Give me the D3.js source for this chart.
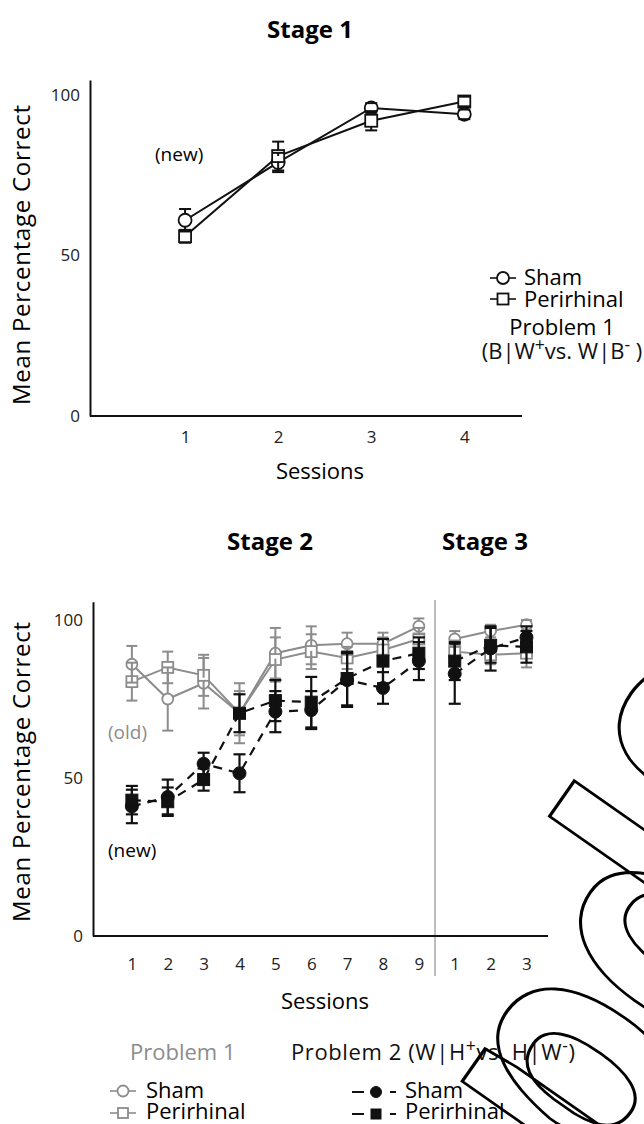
<!DOCTYPE html>
<html><head><meta charset="utf-8">
<script src="https://cdn.jsdelivr.net/npm/d3@7"></script>
<style>
body{margin:0;background:#fff}
svg{display:block}
text{font-family:"Open Sans",sans-serif}
</style>
</head><body>
<svg id="c" width="644" height="1124"></svg>
<script>
// ---------- Stage 1 data ----------
const stage1Sessions = [1, 2, 3, 4];
const stage1ShamMean = [61, 79, 96, 94];
const stage1ShamErr  = [3.5, 3, 1.5, 1.5];
const stage1PeriMean = [56, 81, 92, 98];
const stage1PeriErr  = [2, 4.5, 3, 1.5];

// ---------- Stage 2 + 3 data (index 1-9 = stage 2, 10-12 = stage 3) ----------
const stage23Index      = [1, 2, 3, 4, 5, 6, 7, 8, 9, 10, 11, 12];
const stage23TickLabels = ["1","2","3","4","5","6","7","8","9","1","2","3"];
const p1ShamMean = [86, 75, 80, 70.5, 89.5, 92, 92.5, 92.5, 98, 94, 96.5, 98.5];
const p1ShamErr  = [5.8, 10, 8, 9.5, 8, 6, 3.5, 3.5, 2.5, 2.5, 2, 1.5];
const p1PeriMean = [80.5, 85, 82.5, 70.5, 87.5, 90, 88, 90.5, 94, 90, 89, 89.5];
const p1PeriErr  = [6, 5, 6.5, 7, 7, 5.5, 3.5, 4, 3.5, 3.5, 3, 4.5];
const p2ShamMean = [41, 44, 54.5, 51.5, 71, 71.5, 81, 78.5, 87, 83, 91, 94.5];
const p2ShamErr  = [5.3, 5.5, 3.5, 6, 6.5, 6, 8.5, 5, 6, 9.5, 7, 3.5];
const p2PeriMean = [43, 42.5, 49.5, 70.5, 74.5, 74, 81.5, 87, 89.5, 87, 92, 91.5];
const p2PeriErr  = [4.5, 4.5, 3.5, 6, 6.5, 8, 8.5, 7, 5, 6, 5.5, 5];
const stageSegments = [[0, 9], [9, 12]];

const yTicks = [0, 50, 100];

const svg = d3.select("#c");
const GRAY = "#8c8c8c", BLACK = "#111";
const TICK_FS = 17, LEG_FS = 22, TITLE_FS = 24;

function yAxis(g, y) {
  g.call(d3.axisLeft(y).tickValues(yTicks).tickSize(0).tickSizeOuter(0).tickPadding(10))
   .call(a => a.select(".domain").attr("stroke", BLACK).attr("stroke-width", 2))
   .call(a => a.selectAll("text").attr("font-size", TICK_FS).attr("fill", "#222")
        .style("font-family", "Open Sans"));
}

function drawSeries(g, x, y, xs, mean, err, segs, st) {
  const pts = xs.map((d, i) => ({x: d, m: mean[i], e: err[i]}));
  const line = d3.line().x(d => x(d.x)).y(d => y(d.m));
  segs.forEach(([a, b]) => {
    g.append("path").datum(pts.slice(a, b)).attr("d", line)
      .attr("fill", "none").attr("stroke", st.color).attr("stroke-width", st.lw)
      .attr("stroke-dasharray", st.dash || null);
  });
  return pts;
}
function drawMarkers(g, x, y, pts, st) {
  pts.forEach(p => {
    if (st.marker === "circle") {
      g.append("circle").attr("cx", x(p.x)).attr("cy", y(p.m)).attr("r", st.size)
        .attr("fill", st.fill).attr("stroke", st.color).attr("stroke-width", st.mlw);
    } else {
      g.append("rect").attr("x", x(p.x) - st.size).attr("y", y(p.m) - st.size)
        .attr("width", st.size * 2).attr("height", st.size * 2)
        .attr("fill", st.fill).attr("stroke", st.color).attr("stroke-width", st.mlw);
    }
  });
}
function drawErr(g, x, y, pts, st) {
  pts.forEach(p => {
    const cx = x(p.x), cy = y(p.m), t = y(p.m + p.e), b = y(p.m - p.e);
    const r = st.size;
    if (cy - r > t) g.append("line").attr("x1", cx).attr("x2", cx).attr("y1", cy - r).attr("y2", t)
        .attr("stroke", st.color).attr("stroke-width", st.elw);
    if (cy + r < b) g.append("line").attr("x1", cx).attr("x2", cx).attr("y1", cy + r).attr("y2", b)
        .attr("stroke", st.color).attr("stroke-width", st.elw);
    [t, b].forEach(yy => g.append("line").attr("x1", cx - st.cap).attr("x2", cx + st.cap)
        .attr("y1", yy).attr("y2", yy).attr("stroke", st.color).attr("stroke-width", st.elw));
  });
}
function legendSym(g, cx, cy, st, half, gapStyle) {
  if (gapStyle) {
    g.append("line").attr("x1", cx - 24).attr("x2", cx - 12).attr("y1", cy).attr("y2", cy)
      .attr("stroke", st.color).attr("stroke-width", 2);
    g.append("line").attr("x1", cx + 14).attr("x2", cx + 20).attr("y1", cy).attr("y2", cy)
      .attr("stroke", st.color).attr("stroke-width", 2);
  } else {
    g.append("line").attr("x1", cx - half).attr("x2", cx + half).attr("y1", cy).attr("y2", cy)
      .attr("stroke", st.color).attr("stroke-width", 1.6);
  }
  drawMarkers(g, d3.scaleIdentity(), d3.scaleIdentity(), [{x: cx, m: cy}], st);
}
function supText(g, x, y, anchor, fill, parts, ls) {
  const t = g.append("text").attr("x", x).attr("y", y).attr("text-anchor", anchor)
    .attr("font-size", LEG_FS).attr("fill", fill).attr("letter-spacing", ls || 0);
  let raised = false;
  parts.forEach(([s, sup]) => {
    const ts = t.append("tspan").text(s);
    if (sup) { ts.attr("dy", -8).attr("font-size", LEG_FS * 0.8); raised = true; }
    else if (raised) { ts.attr("dy", 8); raised = false; }
  });
}
function yTitle(g, cy) {
  g.append("text").attr("transform", `translate(30,${cy}) rotate(-90)`).attr("text-anchor", "middle")
    .attr("font-size", 24).attr("textLength", 300).attr("lengthAdjust", "spacing")
    .text("Mean Percentage Correct");
}

// ================= Stage 1 =================
{
  const x = d3.scaleLinear().domain([0, 4.62]).range([92, 522]);
  const y = d3.scaleLinear().domain([0, 104.7]).range([416, 80]);
  const g = svg.append("g");
  g.append("text").attr("x", 310).attr("y", 38).attr("text-anchor", "middle")
    .attr("font-size", TITLE_FS).attr("font-weight", 700).text("Stage 1");
  g.append("g").attr("transform", "translate(90,0)").call(yA => yAxis(yA, y));
  g.append("g").attr("transform", "translate(0,416)")
    .call(d3.axisBottom(x).tickValues(stage1Sessions).tickFormat(d3.format("d"))
      .tickSize(0).tickSizeOuter(0).tickPadding(15))
    .call(a => a.select(".domain").attr("stroke", BLACK).attr("stroke-width", 2).attr("d", "M90,0H522"))
    .call(a => a.selectAll("text").attr("font-size", TICK_FS).attr("fill", "#222").style("font-family", "Open Sans"));
  g.append("text").attr("x", 320).attr("y", 479).attr("text-anchor", "middle").attr("font-size", 22).text("Sessions");
  yTitle(g, 255);
  g.append("text").attr("x", 155).attr("y", 161).attr("font-size", 19).text("(new)");

  const stSham = {color: BLACK, lw: 2, marker: "circle", size: 6.5, fill: "#fff", mlw: 1.8, elw: 2, cap: 6};
  const stPeri = {color: BLACK, lw: 2, marker: "square", size: 6, fill: "#fff", mlw: 1.8, elw: 2, cap: 6};
  const seg = [[0, 4]];
  const ps = drawSeries(g, x, y, stage1Sessions, stage1ShamMean, stage1ShamErr, seg, stSham);
  const pp = drawSeries(g, x, y, stage1Sessions, stage1PeriMean, stage1PeriErr, seg, stPeri);
  drawMarkers(g, x, y, ps, stSham); drawMarkers(g, x, y, pp, stPeri);
  drawErr(g, x, y, ps, stSham); drawErr(g, x, y, pp, stPeri);

  // legend
  legendSym(g, 503, 278, {...stSham, size: 6}, 13);
  legendSym(g, 503, 299, {...stPeri, size: 5.5}, 13);
  g.append("text").attr("x", 524).attr("y", 285).attr("font-size", LEG_FS).text("Sham");
  g.append("text").attr("x", 524).attr("y", 307).attr("font-size", LEG_FS).text("Perirhinal");
  g.append("text").attr("x", 562).attr("y", 335).attr("text-anchor", "middle").attr("font-size", LEG_FS).text("Problem 1");
  supText(g, 562, 359, "middle", "#111", [["(B|W"], ["+", 1], ["vs. W|B"], ["-", 1], [" )"]]);
}

// ================= Stage 2 & 3 =================
{
  const x = d3.scaleLinear().domain([0, 12.6]).range([96, 548]);
  const y = d3.scaleLinear().domain([0, 105.8]).range([936, 601.7]);
  const g = svg.append("g");
  g.append("text").attr("x", 270).attr("y", 550).attr("text-anchor", "middle")
    .attr("font-size", TITLE_FS).attr("font-weight", 700).text("Stage 2");
  g.append("text").attr("x", 485).attr("y", 550).attr("text-anchor", "middle")
    .attr("font-size", TITLE_FS).attr("font-weight", 700).text("Stage 3");

  g.append("line").attr("x1", x(9.45)).attr("x2", x(9.45)).attr("y1", 600).attr("y2", 976)
    .attr("stroke", "#bdbdbd").attr("stroke-width", 2);

  g.append("g").attr("transform", "translate(93,0)").call(yA => yAxis(yA, y));
  g.append("g").attr("transform", "translate(0,936)")
    .call(d3.axisBottom(x).tickValues(stage23Index).tickFormat((d, i) => stage23TickLabels[i])
      .tickSize(0).tickSizeOuter(0).tickPadding(22))
    .call(a => a.select(".domain").attr("stroke", BLACK).attr("stroke-width", 2).attr("d", "M93,0H548"))
    .call(a => a.selectAll("text").attr("font-size", TICK_FS).attr("fill", "#222").style("font-family", "Open Sans"));
  g.append("text").attr("x", 325).attr("y", 1009).attr("text-anchor", "middle").attr("font-size", 22).text("Sessions");
  yTitle(g, 772);
  g.append("text").attr("x", 108).attr("y", 739).attr("font-size", 19).attr("fill", GRAY).text("(old)");
  g.append("text").attr("x", 108).attr("y", 857).attr("font-size", 19).text("(new)");

  const g1S = {color: GRAY, lw: 2, marker: "circle", size: 5.5, fill: "#fff", mlw: 1.8, elw: 2, cap: 5.5};
  const g1P = {color: GRAY, lw: 2, marker: "square", size: 5.5, fill: "#fff", mlw: 1.8, elw: 2, cap: 5.5};
  const b2S = {color: BLACK, lw: 2.2, dash: "9,7", marker: "circle", size: 6.5, fill: BLACK, mlw: 1, elw: 2.2, cap: 6};
  const b2P = {color: BLACK, lw: 2.2, dash: "9,7", marker: "square", size: 6, fill: BLACK, mlw: 1, elw: 2.2, cap: 6};

  const a1 = drawSeries(g, x, y, stage23Index, p1ShamMean, p1ShamErr, stageSegments, g1S);
  const a2 = drawSeries(g, x, y, stage23Index, p1PeriMean, p1PeriErr, stageSegments, g1P);
  drawMarkers(g, x, y, a1, g1S); drawMarkers(g, x, y, a2, g1P);
  drawErr(g, x, y, a1, g1S); drawErr(g, x, y, a2, g1P);
  const b1 = drawSeries(g, x, y, stage23Index, p2ShamMean, p2ShamErr, stageSegments, b2S);
  const b2 = drawSeries(g, x, y, stage23Index, p2PeriMean, p2PeriErr, stageSegments, b2P);
  drawMarkers(g, x, y, b1, b2S); drawMarkers(g, x, y, b2, b2P);
  drawErr(g, x, y, b1, b2S); drawErr(g, x, y, b2, b2P);

  // legend
  g.append("text").attr("x", 130).attr("y", 1060).attr("font-size", LEG_FS).attr("fill", GRAY).text("Problem 1");
  supText(g, 291, 1060, "start", "#111", [["Problem 2 (W|H"], ["+", 1], ["vs. H|W"], ["-", 1], [")"]], 0.6);
  legendSym(g, 123, 1091, {...g1S, size: 5.5}, 13);
  legendSym(g, 123, 1113, {...g1P, size: 5}, 13);
  g.append("text").attr("x", 146).attr("y", 1098).attr("font-size", LEG_FS).text("Sham");
  g.append("text").attr("x", 146).attr("y", 1119).attr("font-size", LEG_FS).text("Perirhinal");
  legendSym(g, 376, 1092, {...b2S, size: 5.5}, 0, true);
  legendSym(g, 376, 1114, {...b2P, size: 5}, 0, true);
  g.append("text").attr("x", 405).attr("y", 1098).attr("font-size", LEG_FS).text("Sham");
  g.append("text").attr("x", 405).attr("y", 1119).attr("font-size", LEG_FS).text("Perirhinal");
}

// ---------- outlined watermark (placed by measuring glyph boxes) ----------
{
  const WM_FONT = "Roboto";
  const ctx = document.createElement("canvas").getContext("2d");
  ctx.font = `700 100px "${WM_FONT}"`;
  const mp = ctx.measureText("p"), mpd = ctx.measureText("pd");
  const Lp = mp.actualBoundingBoxLeft, Ap = mp.actualBoundingBoxAscent;
  const Rpd = mpd.actualBoundingBoxRight, Apd = mpd.actualBoundingBoxAscent;
  const deg = -55, a = deg * Math.PI / 180;
  const Rv = [Math.cos(a), Math.sin(a)], Dv = [-Math.sin(a), Math.cos(a)];
  const P1 = [455, 1078], P2 = [571.7, 778.3];
  const vx = P2[0] - P1[0], vy = P2[1] - P1[1];
  const rdist = vx * Rv[0] + vy * Rv[1];
  const tdist = -(vx * Dv[0] + vy * Dv[1]);
  const kr = rdist / (Rpd + Lp), kt = tdist / (Apd - Ap);
  const sy = kt / kr;
  const lx = -Lp * kr, ly = -Ap * kr * sy;
  const ox = P1[0] - (lx * Rv[0] + ly * Dv[0]);
  const oy = P1[1] - (lx * Rv[1] + ly * Dv[1]);
  svg.append("text").attr("transform", `translate(${ox},${oy}) rotate(${deg}) scale(1,${sy})`)
    .style("font-family", WM_FONT).attr("vector-effect", "non-scaling-stroke")
    .attr("font-size", 100 * kr).attr("font-weight", 700).attr("fill", "none")
    .attr("stroke", "#000").attr("stroke-width", 3).text("pdfelement");
}
</script>
</body></html>
